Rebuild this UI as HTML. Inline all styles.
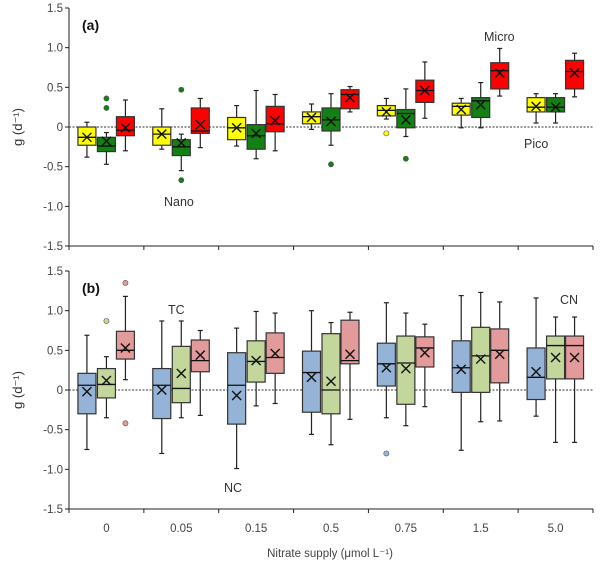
<!DOCTYPE html>
<html><head><meta charset="utf-8"><style>
body{margin:0;background:#fff;}
svg{display:block;font-family:"Liberation Sans",sans-serif;}
</style></head><body>
<svg id="chart" width="600" height="567" viewBox="0 0 600 567" xmlns="http://www.w3.org/2000/svg"></svg>
<script>
const categories = ["0","0.05","0.15","0.5","0.75","1.5","5.0"];
const yTicks = [1.5,1.0,0.5,0,-0.5,-1.0,-1.5];
const yTickLabels = ["1.5","1.0","0.5","0","-0.5","-1.0","-1.5"];
// each row: [low, q1, median, q3, high, mean]
const picoA = [[-0.38,-0.23,-0.13,0.0,0.06,-0.13],[-0.28,-0.23,-0.09,0.0,0.23,-0.09],[-0.24,-0.16,-0.01,0.12,0.27,-0.01],[-0.03,0.04,0.13,0.19,0.29,0.12],[0.10,0.14,0.21,0.27,0.36,0.19],[-0.01,0.15,0.26,0.30,0.36,0.22],[0.05,0.19,0.25,0.37,0.42,0.26]];
const nanoA = [[-0.47,-0.31,-0.24,-0.13,-0.07,-0.18],[-0.55,-0.36,-0.25,-0.16,-0.09,-0.2],[-0.40,-0.28,-0.11,0.03,0.46,-0.08],[-0.23,-0.05,0.09,0.24,0.42,0.07],[-0.12,-0.01,0.17,0.22,0.48,0.09],[-0.01,0.12,0.33,0.37,0.56,0.28],[0.05,0.19,0.25,0.37,0.42,0.25]];
const microA = [[-0.30,-0.11,-0.04,0.13,0.34,-0.01],[-0.26,-0.08,-0.05,0.24,0.36,0.03],[-0.30,-0.06,0.04,0.26,0.41,0.08],[0.19,0.23,0.41,0.47,0.51,0.37],[0.11,0.31,0.46,0.59,0.82,0.46],[0.39,0.48,0.71,0.81,0.99,0.68],[0.38,0.48,0.70,0.84,0.93,0.68]];
const picoOutA = [[],[],[],[],[-0.08],[],[]];
const nanoOutA = [[0.36,0.24],[0.47,-0.67],[],[-0.47],[-0.40],[],[]];
const microOutA = [[],[],[],[],[],[],[]];
const ncB = [[-0.75,-0.30,0.06,0.21,0.69,-0.02],[-0.80,-0.36,0.06,0.27,0.87,0.0],[-0.99,-0.43,0.06,0.47,0.78,-0.07],[-0.56,-0.28,0.22,0.49,1.0,0.16],[-0.35,0.05,0.33,0.59,1.10,0.28],[-0.76,-0.03,0.28,0.62,1.19,0.26],[-0.33,-0.12,0.16,0.53,1.16,0.23]];
const tcB = [[-0.35,-0.10,0.07,0.27,0.42,0.12],[-0.35,-0.16,0.02,0.55,0.87,0.21],[-0.20,0.10,0.36,0.62,0.99,0.37],[-0.69,-0.30,0.0,0.71,0.85,0.11],[-0.45,-0.18,0.34,0.68,0.97,0.27],[-0.40,-0.03,0.43,0.79,1.23,0.39],[-0.66,0.14,0.56,0.68,0.92,0.41]];
const cnB = [[0.13,0.39,0.50,0.74,1.18,0.53],[-0.32,0.23,0.37,0.63,0.75,0.44],[-0.17,0.21,0.41,0.72,0.97,0.46],[-0.37,0.33,0.37,0.88,0.98,0.45],[-0.21,0.29,0.53,0.67,0.83,0.47],[-0.39,0.09,0.50,0.77,1.11,0.45],[-0.66,0.14,0.56,0.68,0.92,0.41]];
const ncOutB = [[],[],[],[],[-0.80],[],[]];
const tcOutB = [[0.87],[],[],[],[],[],[]];
const cnOutB = [[1.35,-0.42],[],[],[],[],[],[]];

const NS="http://www.w3.org/2000/svg";
const svg=document.getElementById('chart');
function mk(tag,attrs,parent){const e=document.createElementNS(NS,tag);for(const k in attrs)e.setAttribute(k,attrs[k]);(parent||svg).appendChild(e);return e;}
const X0=69,X1=593;
const catW=(X1-X0)/categories.length;
function xCat(i){return X0+catW*(i+0.5);}

function panel(top,bot,label,series,outs,fills,pname){
  const g=mk('g',{});
  
  
  const y=v=>top+(1.5-v)/3*(bot-top);
  // axes
  const ax=mk('line',{x1:X0,y1:top,x2:X0,y2:bot,stroke:'#222','stroke-width':1},g);
  
  const bx=mk('line',{x1:X0,y1:bot,x2:X1,y2:bot,stroke:'#222','stroke-width':1},g);
  
  for(let i=0;i<=categories.length;i++){mk('line',{x1:X0+catW*i,y1:bot,x2:X0+catW*i,y2:bot+4,stroke:'#222'},g);}
  yTicks.forEach((t,i)=>{
    mk('line',{x1:X0-4,y1:y(t),x2:X0,y2:y(t),stroke:'#222'},g);
    const tx=mk('text',{x:X0-6,y:y(t)+4,'text-anchor':'end','font-size':11.5,fill:'#444'},g);
    tx.textContent=yTickLabels[i];
    
  });
  const zl=mk('line',{x1:X0,y1:y(0),x2:X1,y2:y(0),stroke:'#333','stroke-dasharray':'2,1.5','stroke-width':1},g);
  
  const lb=mk('text',{x:82,y:top+22,'font-size':14,'font-weight':'bold',fill:'#111'},g);
  lb.textContent=label;
  const offs=[-19.5,0,19];const bw=18;
  series.forEach((s,si)=>{
    s.forEach((d,ci)=>{
      const cx=xCat(ci)+offs[si];
      const [lo,q1,md,q3,hi,mn]=d;
      const bg=mk('g',{},g);
      
      
      mk('line',{x1:cx,y1:y(hi),x2:cx,y2:y(q3),stroke:'#222','stroke-width':1.2},bg);
      mk('line',{x1:cx,y1:y(q1),x2:cx,y2:y(lo),stroke:'#222','stroke-width':1.2},bg);
      mk('line',{x1:cx-2.5,y1:y(hi),x2:cx+2.5,y2:y(hi),stroke:'#222','stroke-width':1.2},bg);
      mk('line',{x1:cx-2.5,y1:y(lo),x2:cx+2.5,y2:y(lo),stroke:'#222','stroke-width':1.2},bg);
      mk('rect',{x:cx-bw/2,y:y(q3),width:bw,height:Math.max(1,y(q1)-y(q3)),fill:fills[si],stroke:'#333','stroke-width':1.2},bg);
      mk('line',{x1:cx-bw/2,y1:y(md),x2:cx+bw/2,y2:y(md),stroke:'#111','stroke-width':1.3},bg);
      const m=y(mn);
      mk('path',{d:`M${cx-4.5},${m-4.5}L${cx+4.5},${m+4.5}M${cx+4.5},${m-4.5}L${cx-4.5},${m+4.5}`,stroke:'#111','stroke-width':1.4},bg);
      outs[si][ci].forEach(o=>{
        const c=mk('circle',{cx:cx,cy:y(o),r:2.6,fill:fills[si],stroke:'#555','stroke-width':0.6},g);
        
      });
    });
  });
  return y;
}
panel(8,246,'(a)',[picoA,nanoA,microA],[picoOutA,nanoOutA,microOutA],['#ffff00','#138013','#ff0000'],'panel-a');
panel(271,509,'(b)',[ncB,tcB,cnB],[ncOutB,tcOutB,cnOutB],['#95b3d7','#c3d69b','#e39a9a'],'panel-b');

function txt(x,y,s,name,opts){const t=mk('text',Object.assign({x:x,y:y,'font-size':12.5,fill:'#333'},opts||{}));t.textContent=s;return t;}
txt(164,206,'Nano','nano-annotation');
txt(484,41,'Micro','micro-annotation');
txt(524,148,'Pico','pico-annotation');
txt(168,314,'TC','tc-annotation');
txt(224,492,'NC','nc-annotation');
txt(560,304,'CN','cn-annotation');
categories.forEach((c,i)=>{txt(xCat(i),532,c,'x-tick-label',{'text-anchor':'middle','font-size':11.5,fill:'#444'});});
txt(330,557,'Nitrate supply  (μmol L⁻¹)','x-axis-title',{'text-anchor':'middle','font-size':11.5,fill:'#444'});
const yt1=txt(0,0,'g (d⁻¹)','y-axis-title-a',{'text-anchor':'middle','font-size':13,transform:'translate(22,127) rotate(-90)'});
const yt2=txt(0,0,'g (d⁻¹)','y-axis-title-b',{'text-anchor':'middle','font-size':13,transform:'translate(22,390) rotate(-90)'});
</script>
</body></html>
